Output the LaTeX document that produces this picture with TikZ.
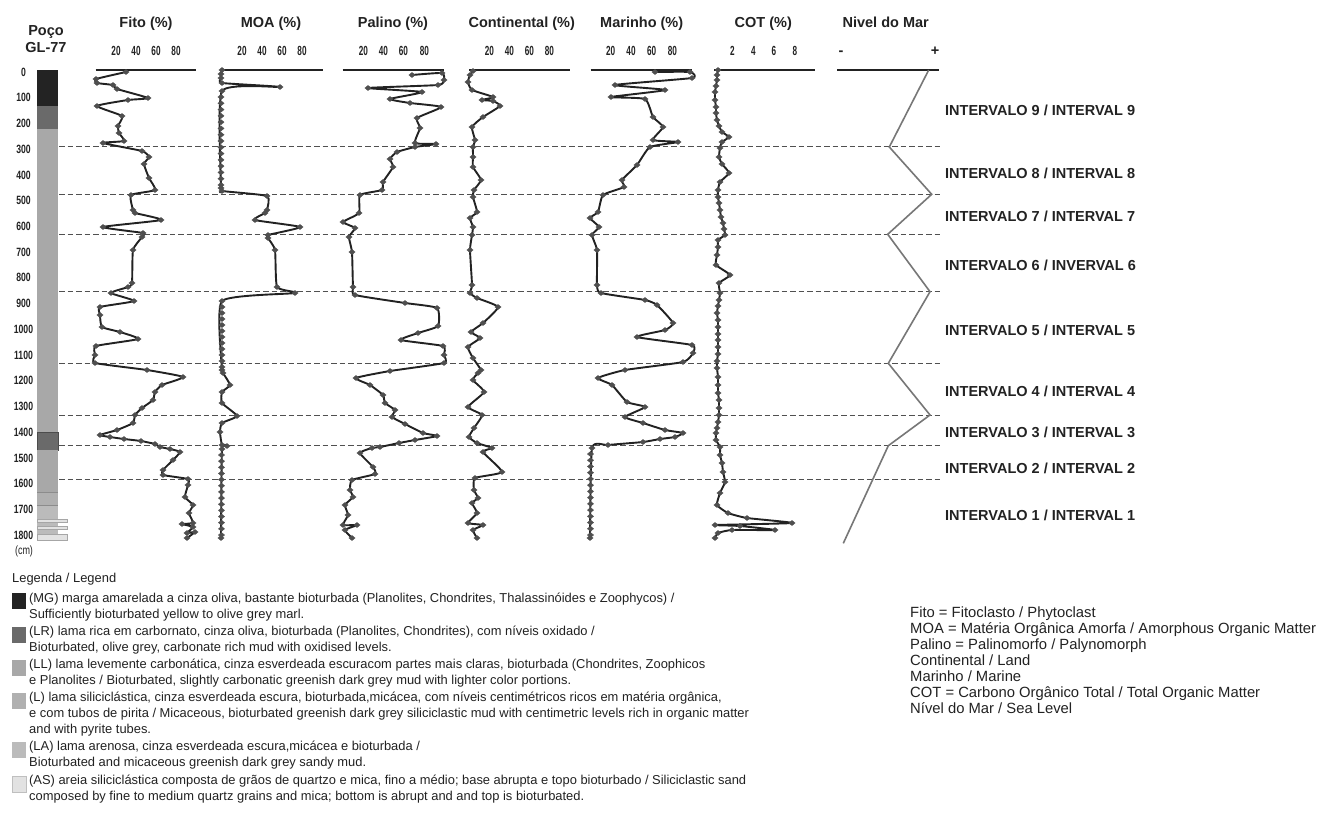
\documentclass[tikz,border=0pt]{standalone}
\usepackage{fontspec}
\setmainfont{Liberation Sans}
\usepackage{graphicx}
\usetikzlibrary{plotmarks}
\newcommand{\cnd}[2][0.64]{\scalebox{#1}[1]{#2}}
\definecolor{ink}{HTML}{222222}
\definecolor{mkc}{HTML}{4F4F4F}
\definecolor{dashc}{HTML}{505050}
\definecolor{sea}{HTML}{777777}
\definecolor{cMG}{HTML}{232323}
\definecolor{cLR}{HTML}{6A6A6A}
\definecolor{cLL}{HTML}{A8A8A8}
\definecolor{cL}{HTML}{B0B0B0}
\definecolor{cLA}{HTML}{BBBBBB}
\definecolor{cAS}{HTML}{E2E2E2}
\tikzset{
 ttl/.style={font=\fontsize{14.5}{17}\selectfont\bfseries, text=ink, inner sep=0pt, anchor=base},
 tck/.style={font=\fontsize{13.2}{14}\selectfont\bfseries, text=ink, inner sep=0pt, anchor=base},
 dpt/.style={font=\fontsize{12}{13}\selectfont\bfseries, text=ink, inner sep=0pt, anchor=base},
 ivl/.style={font=\fontsize{14.5}{17}\selectfont\bfseries, text=ink, inner sep=0pt, anchor=base west},
 leg/.style={font=\fontsize{12.9}{15}\selectfont, text=ink, inner sep=0pt, anchor=base west},
 legr/.style={font=\fontsize{14.8}{16}\selectfont, text=ink, inner sep=0pt, anchor=base west},
 axl/.style={line width=1.9pt, draw=ink},
 crv/.style={line width=1.9pt, draw=ink, line join=round, line cap=round},
 mk/.style={mark=diamond*, mark size=2.6pt, mark options={draw=mkc, fill=mkc, xscale=1.6, line width=0.3pt, solid}},
 bnd/.style={draw=dashc, line width=0.9pt, dash pattern=on 5.5pt off 3pt},
 sealine/.style={draw=sea, line width=1.6pt, line join=miter},
}
\begin{document}
\begin{tikzpicture}[x=1pt,y=-1pt]
\fill[white] (0,0) rectangle (1330,830);
\useasboundingbox (0,0) rectangle (1330,830);

% ---------- headers
\node[ttl, name=poco] at (46,35) {Poço};
\node[ttl, name=gl] at (46,52.5) {GL-77};
\node[ttl, name=tFito] at (146,27.3) {Fito (\%)};
\node[ttl, name=tMOA] at (271,27.3) {MOA (\%)};
\node[ttl, name=tPal] at (393,27.3) {Palino (\%)};
\node[ttl, name=tCon] at (521.7,27.3) {Continental (\%)};
\node[ttl, name=tMar] at (641.7,27.3) {Marinho (\%)};
\node[ttl, name=tCOT] at (763.3,27.3) {COT (\%)};
\node[ttl, name=tNiv] at (885.7,27.3) {Nivel do Mar};

% tick labels
\foreach \xx/\lab [count=\i] in {116/20,136/40,156/60,176/80,
  242/20,262/40,282/60,302/80,
  363.3/20,383.3/40,403.3/60,424.3/80,
  489.3/20,509.3/40,529.3/60,549.3/80,
  610.7/20,631/40,651.7/60,672.3/80,
  732.3/2,753.3/4,774/6,795/8}
  \node[tck, name=tk\i] at (\xx,55.7) {\cnd[0.62]{\lab}};
\node[ttl, name=minus] at (841,55.7) {-};
\node[ttl, name=plus] at (935,55.7) {+};

% top axis lines
\draw[axl] (95.7,70) -- (196,70);
\draw[axl] (221.7,70) -- (322.7,70);
\draw[axl] (342.7,70) -- (444,70);
\draw[axl] (469,70) -- (570,70);
\draw[axl] (590.7,70) -- (691.7,70);
\draw[axl] (714,70) -- (815,70);
\draw[axl] (837.3,70) -- (939.3,70);

% depth labels
\foreach \dep [count=\i] in {0,100,...,1800}
  \node[dpt, name=dl\i] at (23.5,{72+0.2572*\dep+4.2}) {\cnd[0.72]{\dep}};
\node[font=\fontsize{12}{13}\selectfont, text=ink, inner sep=0pt, name=cm] at (24,551) {\cnd[0.75]{(cm)}};

% lithology column
\fill[cMG] (37,70) rectangle (58,106);
\fill[cLR] (37,106) rectangle (58,129);
\fill[cLL] (37,129) rectangle (58,432);
\filldraw[fill=cLR, draw=black!70, line width=0.5pt] (37,432) rectangle (58,450);
\fill[cLL] (37,450) rectangle (58,492);
\fill[cL] (37,492) rectangle (58,505);
\fill[cLA] (37,505) rectangle (58,540);
\draw[black!45, line width=0.5pt] (37,492) -- (58,492) (37,505) -- (58,505);
\filldraw[fill=cAS, draw=black!35, line width=0.5pt] (37,519) rectangle (67.5,522);
\filldraw[fill=cAS, draw=black!35, line width=0.5pt] (37,526.5) rectangle (67.5,529.5);
\filldraw[fill=cAS, draw=black!35, line width=0.5pt] (37,534) rectangle (67.5,540);

% interval boundaries
\foreach \yy in {146.7,194.3,234.3,291.7,363.3,415,445.7,479.3}
  \draw[bnd] (59,\yy) -- (940,\yy);

% sea level curve
\coordinate (s0) at (928.7,70);
\coordinate (s1) at (889.3,147);
\coordinate (s2) at (931.7,194.3);
\coordinate (s3) at (887.7,234.3);
\coordinate (s4) at (930,291.7);
\coordinate (s5) at (888.3,363.3);
\coordinate (s6) at (930,415);
\coordinate (s7) at (888.3,445.7);
\coordinate (s8) at (843.3,543.3);
\draw[sealine] (s0) -- (s1) -- (s2) -- (s3) -- (s4) -- (s5) -- (s6) -- (s7) -- (s8);

% ---------- Fito
\draw[crv, mk] plot[smooth, tension=0.3] coordinates {
(126,72) (96,79) (97,83) (113,85) (117,89) (148,98) (128,100) (97,106) (122,116) (118,126) (119,133) (124,141) (103,143) (142,151) (149,157) (144,164) (149,178) (155,190) (131,195) (133,210) (135,213) (161,220) (103,227) (143,233) (142,237) (133,250) (132,283) (128,287) (111,293) (134,301) (100,307) (100,315) (102,327) (120,332) (138,339) (96,346) (95,355) (95,363) (147,370) (183,377) (162,385) (155,392) (153,400) (142,408) (135,415) (133,423) (117,430) (100,435) (110,437) (124,439) (141,441) (155,444) (160,447) (170,449) (180,452) (173,460) (163,470) (163,475) (188,479) (188,485) (185,497) (193,505) (189,513) (193,523) (182,524) (193,527) (187,533) (195,532) (187,538)};

% ---------- MOA
\draw[crv, mk] plot[smooth, tension=0.3] coordinates {
(222,70) (221,74) (221,78) (222,83) (280,87) (222,91) (221,188) (222,191) (267,196) (267,210) (265,213) (255,220) (300,227) (268,235) (268,238) (275,250) (277,287) (295,293) (222,301) (222,370) (223,373) (230,385) (222,392) (222,403) (237,416) (222,423) (220,432) (222,445) (227,446) (222,449) (221,538)};
\draw[mk] plot[only marks, domain=97:185, samples=15] (221,\x);
\draw[mk] plot[only marks, domain=307:367, samples=11] (222,\x);
\draw[mk] plot[only marks, domain=455:535, samples=14] (221.5,\x);

% ---------- Palino
\draw[crv, mk] plot[smooth, tension=0.3] coordinates {
(412,75) (442,73) (444,80) (438,85) (368,88) (422,92) (390,99) (410,103) (441,107) (417,118) (420,128) (415,143) (436,144) (415,147) (397,152) (390,159) (393,167) (383,182) (382,190) (360,195) (359,213) (343,222) (355,228) (349,237) (352,252) (353,287) (355,295) (405,303) (437,308) (438,326) (418,333) (401,340) (443,346) (444,355) (444,363) (390,371) (356,378) (370,385) (383,395) (385,403) (395,410) (392,417) (405,424) (423,433) (437,436) (415,440) (399,443) (380,447) (372,448) (360,453) (373,467) (375,474) (352,480) (350,490) (353,497) (345,505) (348,515) (343,525) (357,525) (345,530) (352,538)};

% ---------- Continental
\draw[crv, mk] plot[smooth, tension=0.3] coordinates {
(473,71) (470,75) (468,82) (472,90) (493,97) (482,100) (493,101) (500,106) (483,117) (472,127) (475,140) (473,147) (473,157) (473,167) (481,180) (474,190) (473,197) (477,212) (470,218) (473,227) (472,235) (470,250) (472,285) (470,293) (477,298) (498,307) (483,323) (471,332) (480,338) (468,347) (473,358) (481,370) (478,373) (473,380) (484,392) (468,407) (482,415) (474,428) (469,437) (477,443) (492,448) (483,452) (502,472) (475,478) (474,490) (478,498) (472,503) (477,513) (468,523) (483,525) (473,530) (477,538)};

% ---------- Marinho
\draw[crv, mk] plot[smooth, tension=0.3] coordinates {
(655,72) (690,72) (692,78) (615,85) (665,90) (611,97) (645,99) (653,117) (663,127) (653,140) (678,142) (650,147) (637,165) (622,180) (624,187) (603,195) (598,212) (590,218) (599,227) (592,235) (597,250) (597,285) (601,293) (645,300) (657,305) (673,323) (665,330) (637,337) (692,345) (693,353) (683,362) (625,370) (598,378) (612,385) (627,402) (645,407) (625,417) (643,423) (665,430) (683,433) (675,437) (660,439) (643,442) (608,445) (592,448) (590,538)};
\draw[mk] plot[only marks, domain=454:535, samples=14] (590.5,\x);

% ---------- COT
\draw[crv, mk] plot[smooth, tension=0.3] coordinates {
(718,70) (717,75) (717,80) (716,86) (715,92) (715,100) (716,107) (716,113) (717,120) (719,126) (722,132) (729,137) (722,142) (720,148) (719,157) (722,164) (729,173) (720,182) (718,190) (718,197) (719,203) (720,210) (721,217) (723,223) (724,229) (725,235) (718,240) (718,247) (717,255) (716,265) (730,275) (719,283) (720,293) (719,300) (718,306) (717,313) (718,320) (718,327) (718,334) (718,340) (718,347) (718,354) (717,361) (717,368) (718,377) (718,385) (718,393) (719,400) (719,408) (719,415) (718,422) (717,428) (716,433) (716,440) (720,447) (720,455) (722,463) (723,472) (725,482) (720,493) (717,505) (728,513) (747,518) (792,523) (715,525) (740,526) (775,530) (732,530) (718,533) (715,538)};

% ---------- interval labels
\node[ivl, name=i9] at (945,115.2) {INTERVALO 9 / INTERVAL 9};
\node[ivl, name=i8] at (945,178.2) {INTERVALO 8 / INTERVAL 8};
\node[ivl, name=i7] at (945,221.2) {INTERVALO 7 / INTERVAL 7};
\node[ivl, name=i6] at (945,270.2) {INTERVALO 6 / INVERVAL 6};
\node[ivl, name=i5] at (945,335.2) {INTERVALO 5 / INTERVAL 5};
\node[ivl, name=i4] at (945,396.2) {INTERVALO 4 / INTERVAL 4};
\node[ivl, name=i3] at (945,437.2) {INTERVALO 3 / INTERVAL 3};
\node[ivl, name=i2] at (945,473.2) {INTERVALO 2 / INTERVAL 2};
\node[ivl, name=i1] at (945,520.2) {INTERVALO 1 / INTERVAL 1};

% ---------- legend
\node[leg, name=legt] at (12,582.5) {Legenda / Legend};
\fill[cMG] (12,593) rectangle (26,609);
\fill[cLR] (12,627) rectangle (26,643);
\fill[cLL] (12,660) rectangle (26,676);
\fill[cL] (12,693) rectangle (26,709);
\fill[cLA] (12,742) rectangle (26,758);
\filldraw[fill=cAS, draw=black!25, line width=0.4pt] (12,776) rectangle (26,792);
\node[leg, name=l1] at (29,602.5) {(MG) marga amarelada a cinza oliva, bastante bioturbada (Planolites, Chondrites, Thalassinóides e Zoophycos) /};
\node[leg, name=l2] at (29,618.5) {Sufficiently bioturbated yellow to olive grey marl.};
\node[leg, name=l3] at (29,635.5) {(LR) lama rica em carbornato, cinza oliva, bioturbada (Planolites, Chondrites), com níveis oxidado /};
\node[leg, name=l4] at (29,651.5) {Bioturbated, olive grey, carbonate rich mud with oxidised levels.};
\node[leg, name=l5] at (29,668.5) {(LL) lama levemente carbonática, cinza esverdeada escuracom partes mais claras, bioturbada (Chondrites, Zoophicos};
\node[leg, name=l6] at (29,684.5) {e Planolites / Bioturbated, slightly carbonatic greenish dark grey mud with lighter color portions.};
\node[leg, name=l7] at (29,701.5) {(L) lama siliciclástica, cinza esverdeada escura, bioturbada,micácea, com níveis centimétricos ricos em matéria orgânica,};
\node[leg, name=l8] at (29,717.5) {e com tubos de pirita / Micaceous, bioturbated greenish dark grey siliciclastic mud with centimetric levels rich in organic matter};
\node[leg, name=l9] at (29,733.5) {and with pyrite tubes.};
\node[leg, name=l10] at (29,750.5) {(LA) lama arenosa, cinza esverdeada escura,micácea e bioturbada /};
\node[leg, name=l11] at (29,766.5) {Bioturbated and micaceous greenish dark grey sandy mud.};
\node[leg, name=l12] at (29,784.5) {(AS) areia siliciclástica composta de grãos de quartzo e mica, fino a médio; base abrupta e topo bioturbado / Siliciclastic sand};
\node[leg, name=l13] at (29,800.5) {composed by fine to medium quartz grains and mica; bottom is abrupt and and top is bioturbated.};

\node[legr, name=r1] at (910,617.5) {Fito = Fitoclasto / Phytoclast};
\node[legr, name=r2] at (910,633.5) {MOA = Matéria Orgânica Amorfa / Amorphous Organic Matter};
\node[legr, name=r3] at (910,649.5) {Palino = Palinomorfo / Palynomorph};
\node[legr, name=r4] at (910,665.5) {Continental / Land};
\node[legr, name=r5] at (910,681.5) {Marinho / Marine};
\node[legr, name=r6] at (910,697.5) {COT = Carbono Orgânico Total / Total Organic Matter};
\node[legr, name=r7] at (910,713.5) {Nível do Mar / Sea Level};
\end{tikzpicture}
\end{document}
